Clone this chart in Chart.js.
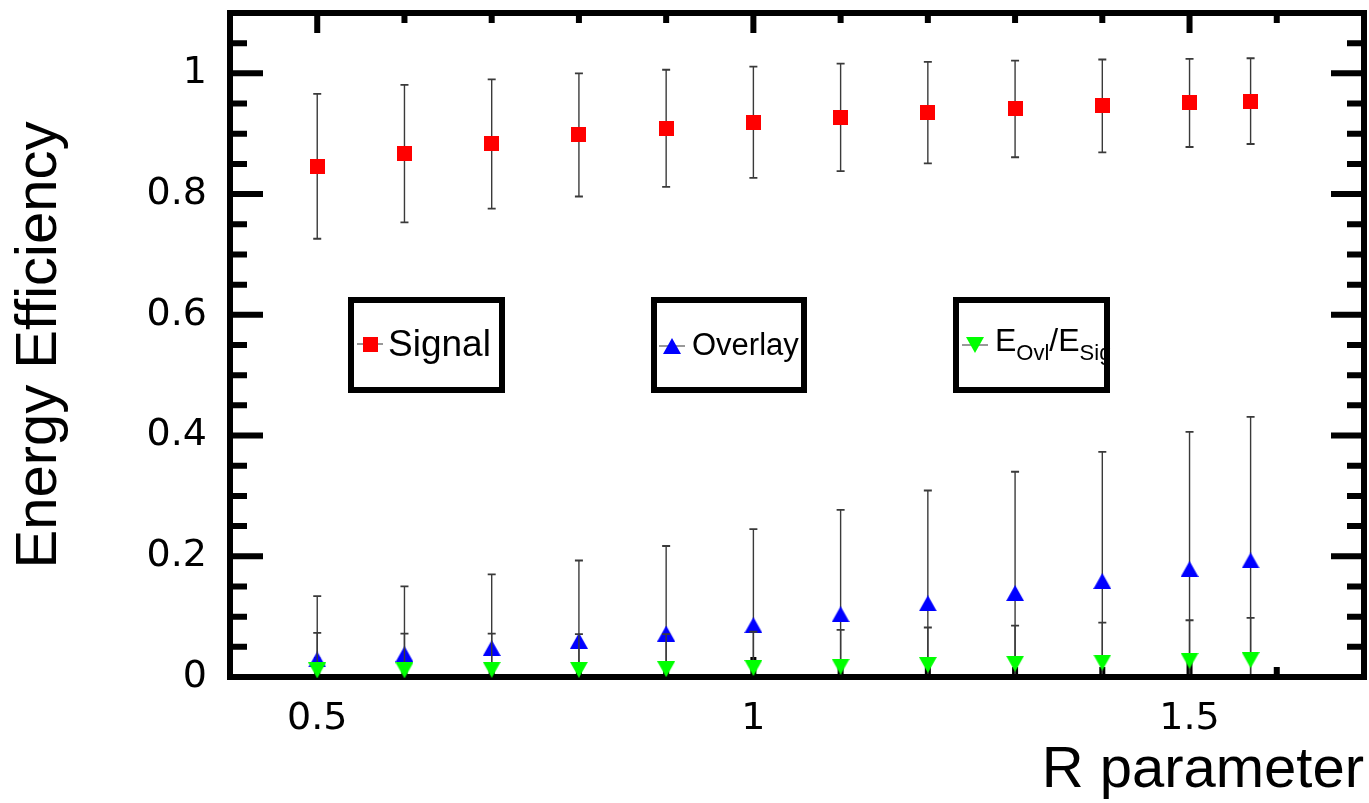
<!DOCTYPE html>
<html>
<head>
<meta charset="utf-8">
<script src="https://cdn.jsdelivr.net/npm/chart.js@4.4.1/dist/chart.umd.min.js"></script>
<style>
html, body { margin: 0; padding: 0; background: #ffffff; }
#wrap { width: 1369px; height: 803px; position: relative; }
</style>
</head>
<body>
<div id="wrap"><canvas id="c" width="1369" height="803"></canvas></div>
<script>
// ---------------- data ----------------
const rValues     = [0.5, 0.6, 0.7, 0.8, 0.9, 1.0, 1.1, 1.2, 1.3, 1.4, 1.5, 1.57];
const signalEff   = [0.846, 0.867, 0.883, 0.898, 0.909, 0.919, 0.927, 0.935, 0.941, 0.946, 0.951, 0.954];
const signalErr   = [0.120, 0.114, 0.107, 0.102, 0.097, 0.092, 0.089, 0.084, 0.080, 0.077, 0.073, 0.071];
const overlayEff  = [0.029, 0.038, 0.048, 0.060, 0.072, 0.086, 0.104, 0.122, 0.139, 0.159, 0.179, 0.193];
const overlayErr  = [0.105, 0.112, 0.122, 0.133, 0.145, 0.159, 0.173, 0.187, 0.201, 0.214, 0.227, 0.238];
const ratioEff    = [0.011, 0.011, 0.012, 0.012, 0.013, 0.015, 0.017, 0.020, 0.022, 0.024, 0.027, 0.028];
const ratioErr    = [0.062, 0.061, 0.060, 0.059, 0.058, 0.060, 0.061, 0.062, 0.063, 0.066, 0.067, 0.070];

const xTickLabels = [0.5, 1, 1.5];
const yTickLabels = [0, 0.2, 0.4, 0.6, 0.8, 1];
const seriesNames = ['Signal', 'Overlay', 'E_Ovl/E_Sig'];
const xTitle = 'R parameter';
const yTitle = 'Energy Efficiency';

// ---------------- marker images ----------------
function makeMarker(shape, w, h, color) {
  const c = document.createElement('canvas');
  c.width = w; c.height = h;
  const g = c.getContext('2d');
  g.fillStyle = color;
  g.beginPath();
  if (shape === 'square') {
    g.rect(0, 0, w, h);
  } else if (shape === 'up') {
    g.moveTo(w / 2, 0); g.lineTo(w, h); g.lineTo(0, h); g.closePath();
  } else {
    g.moveTo(0, 0); g.lineTo(w, 0); g.lineTo(w / 2, h); g.closePath();
  }
  g.fill();
  return c;
}
const mSquare = makeMarker('square', 15, 15, '#ff0000');
const mUp     = makeMarker('up', 18, 16, '#0000ff');
const mDown   = makeMarker('down', 18, 16, '#00ff00');

const toPts = (ys) => rValues.map((x, i) => ({ x: x, y: ys[i] }));
const errorsByDataset = [signalErr, overlayErr, ratioErr];
const valuesByDataset = [signalEff, overlayEff, ratioEff];

function noEdgePadding(s) {
  s.paddingTop = 0; s.paddingBottom = 0; s.paddingLeft = 0; s.paddingRight = 0;
}

// ---------------- plugin: ROOT-like frame, inward ticks, error bars, legends ----------------
const rootStyle = {
  id: 'rootStyle',
  beforeDatasetsDraw(chart) {
    const { ctx, chartArea: a, scales: { x, y } } = chart;
    ctx.save();
    ctx.strokeStyle = '#000';
    ctx.lineWidth = 6;
    ctx.strokeRect(a.left, a.top, a.right - a.left, a.bottom - a.top);
    ctx.lineCap = 'butt';
    // x ticks (every 0.1, majors at labelled values)
    for (let k = 5; k <= 16; k++) {
      const v = k / 10;
      const px = x.getPixelForValue(v);
      const major = xTickLabels.some(t => Math.abs(t - v) < 1e-9);
      const len = major ? 20 : 10;
      ctx.beginPath();
      ctx.moveTo(px, a.top); ctx.lineTo(px, a.top + len);
      ctx.moveTo(px, a.bottom); ctx.lineTo(px, a.bottom - len);
      ctx.stroke();
    }
    // y ticks (every 0.05, majors every 0.2)
    for (let k = 1; k <= 21; k++) {
      const v = k * 0.05;
      const py = y.getPixelForValue(v);
      const major = yTickLabels.some(t => Math.abs(t - v) < 1e-9);
      const len = major ? 33 : 17;
      ctx.beginPath();
      ctx.moveTo(a.left, py); ctx.lineTo(a.left + len, py);
      ctx.moveTo(a.right, py); ctx.lineTo(a.right - len, py);
      ctx.stroke();
    }
    ctx.restore();
  },
  beforeDatasetDraw(chart, args) {
    const { ctx, chartArea: a, scales: { x, y } } = chart;
    const vals = valuesByDataset[args.index];
    const errs = errorsByDataset[args.index];
    ctx.save();
    ctx.beginPath();
    ctx.rect(a.left + 3, a.top + 3, a.right - a.left - 6, a.bottom - a.top - 6);
    ctx.clip();
    ctx.strokeStyle = '#3a3a3a';
    for (let i = 0; i < rValues.length; i++) {
      const px = x.getPixelForValue(rValues[i]);
      const yt = y.getPixelForValue(vals[i] + errs[i]);
      const yb = y.getPixelForValue(vals[i] - errs[i]);
      ctx.lineWidth = 1.4;
      ctx.beginPath();
      ctx.moveTo(px, yt); ctx.lineTo(px, yb);
      ctx.stroke();
      ctx.lineWidth = 1.8;
      ctx.beginPath();
      ctx.moveTo(px - 4, yt); ctx.lineTo(px + 4, yt);
      ctx.moveTo(px - 4, yb); ctx.lineTo(px + 4, yb);
      ctx.stroke();
    }
    ctx.restore();
  },
  afterDraw(chart, args, opts) {
    const { ctx } = chart;
    ctx.save();
    opts.boxes.forEach((b) => {
      ctx.fillStyle = '#fff';
      ctx.fillRect(b.x1, b.y1, b.x2 - b.x1, b.y2 - b.y1);
      ctx.strokeStyle = '#000';
      ctx.lineWidth = 6;
      ctx.strokeRect(b.x1, b.y1, b.x2 - b.x1, b.y2 - b.y1);
      ctx.strokeStyle = '#555';
      ctx.lineWidth = 1.2;
      ctx.beginPath();
      ctx.moveTo(b.mx - 13, b.my); ctx.lineTo(b.mx + 13, b.my);
      ctx.stroke();
      const img = b.marker;
      ctx.drawImage(img, b.mx - img.width / 2, b.my - img.height / 2);
      ctx.fillStyle = '#000';
      ctx.textBaseline = 'alphabetic';
      ctx.textAlign = 'left';
      let tx = b.tx;
      b.parts.forEach(p => {
        ctx.font = p.size + 'px "Liberation Sans", Arial, sans-serif';
        ctx.fillText(p.t, tx, b.ty + (p.dy || 0));
        tx += ctx.measureText(p.t).width;
      });
    });
    ctx.restore();
  }
};

const ratioParts = (() => {
  const [a, b] = seriesNames[2].split('/');
  const [a1, a2] = a.split('_');
  const [b1, b2] = b.split('_');
  return [
    { t: a1, size: 32 }, { t: a2, size: 22, dy: 9 },
    { t: '/' + b1, size: 32 }, { t: b2, size: 22, dy: 9 }
  ];
})();

new Chart(document.getElementById('c'), {
  type: 'scatter',
  data: {
    datasets: [
      { label: seriesNames[0], data: toPts(signalEff), pointStyle: mSquare, order: 3, clip: false, showLine: false },
      { label: seriesNames[1], data: toPts(overlayEff), pointStyle: mUp, order: 2, clip: false, showLine: false },
      { label: seriesNames[2], data: toPts(ratioEff), pointStyle: mDown, order: 1, clip: false, showLine: false }
    ]
  },
  options: {
    responsive: false,
    animation: false,
    devicePixelRatio: 1,
    layout: { padding: { top: 13, right: 5, left: 0, bottom: 0 }, autoPadding: false },
    plugins: {
      legend: { display: false },
      tooltip: { enabled: false },
      rootStyle: {
        boxes: [
          { x1: 351, y1: 300, x2: 502, y2: 390, mx: 370, my: 344, marker: mSquare, tx: 388, ty: 356,
            parts: [{ t: seriesNames[0], size: 37 }] },
          { x1: 654, y1: 300, x2: 804, y2: 390, mx: 672, my: 346, marker: mUp, tx: 692, ty: 355,
            parts: [{ t: seriesNames[1], size: 31 }] },
          { x1: 956, y1: 300, x2: 1107, y2: 390, mx: 975, my: 345, marker: mDown, tx: 995, ty: 351,
            parts: ratioParts }
        ]
      }
    },
    scales: {
      x: {
        type: 'linear', position: 'bottom', min: 0.4, max: 1.7,
        grid: { display: false, drawTicks: false },
        border: { display: false },
        afterBuildTicks: s => { s.ticks = xTickLabels.map(v => ({ value: v })); },
        afterFit: s => { s.height = 126; noEdgePadding(s); },
        ticks: {
          autoSkip: false, maxRotation: 0, padding: 19, color: '#000',
          font: { family: '"DejaVu Sans", sans-serif', size: 38 },
          callback: v => String(+v.toFixed(2))
        },
        title: {
          display: true, text: xTitle, align: 'end', color: '#000',
          font: { family: '"Liberation Sans", Arial, sans-serif', size: 58, lineHeight: 1 },
          padding: { top: 0, bottom: 3 }
        }
      },
      y: {
        type: 'linear', position: 'left', min: 0, max: 1.1,
        grid: { display: false, drawTicks: false },
        border: { display: false },
        afterBuildTicks: s => { s.ticks = yTickLabels.map(v => ({ value: v })); },
        afterFit: s => { s.width = 230; noEdgePadding(s); },
        ticks: {
          padding: 23, color: '#000',
          font: { family: '"DejaVu Sans", sans-serif', size: 38 },
          callback: v => String(+v.toFixed(2))
        },
        title: {
          display: true, text: yTitle, color: '#000',
          font: { family: '"Liberation Sans", Arial, sans-serif', size: 58, lineHeight: 1 },
          padding: { top: 11, bottom: 0 }
        }
      }
    }
  },
  plugins: [rootStyle]
});
</script>
</body>
</html>
